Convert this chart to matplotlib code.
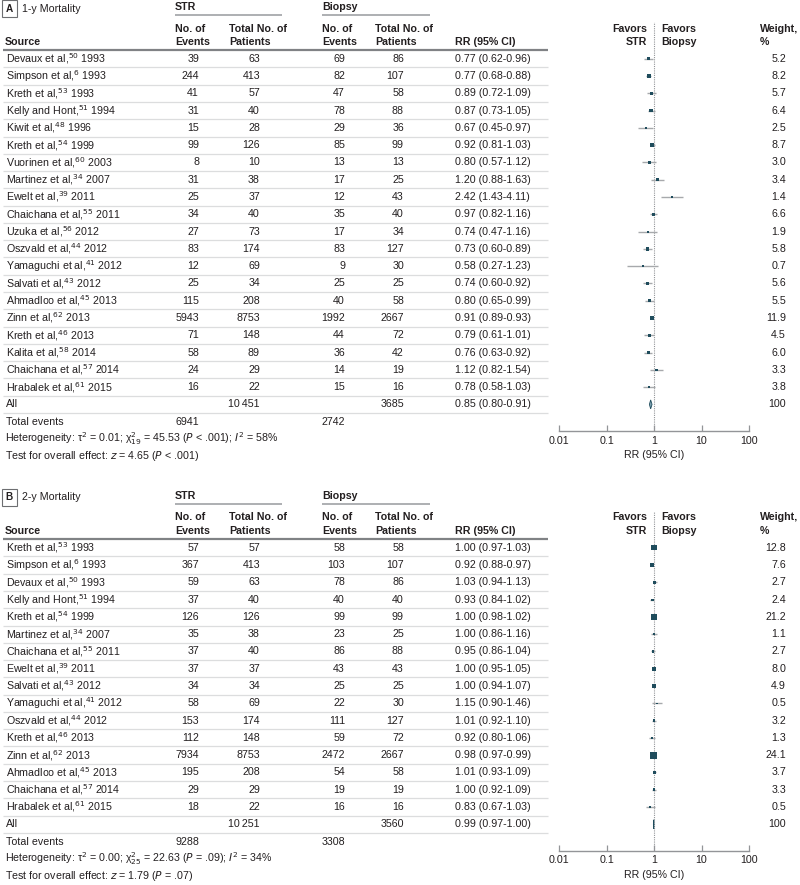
import matplotlib
matplotlib.use('Agg')
import matplotlib.pyplot as plt
from matplotlib.patches import Polygon
import numpy as np

FONT = ['Liberation Sans Narrow', 'Liberation Sans', 'DejaVu Sans']
plt.rcParams['font.family'] = FONT
plt.rcParams['mathtext.fontset'] = 'custom'
plt.rcParams['mathtext.rm'] = 'Liberation Sans Narrow'
plt.rcParams['mathtext.it'] = 'Liberation Sans Narrow:italic'
plt.rcParams['mathtext.bf'] = 'Liberation Sans Narrow:bold'

# ---------------- Panel A data: 1-y mortality ----------------
names_a = ["Devaux et al", "Simpson et al", "Kreth et al", "Kelly and Hont", "Kiwit et al",
           "Kreth et al", "Vuorinen et al", "Martinez et al", "Ewelt et al", "Chaichana et al",
           "Uzuka et al", "Oszvald et al", "Yamaguchi et al", "Salvati et al", "Ahmadloo et al",
           "Zinn et al", "Kreth et al", "Kalita et al", "Chaichana et al", "Hrabalek et al"]
refs_a = [50, 6, 53, 51, 48, 54, 60, 34, 39, 55, 56, 44, 41, 43, 45, 62, 46, 58, 57, 61]
years_a = [1993, 1993, 1993, 1994, 1996, 1999, 2003, 2007, 2011, 2011, 2012, 2012, 2012, 2012,
           2013, 2013, 2013, 2014, 2014, 2015]
str_events_a = [39, 244, 41, 31, 15, 99, 8, 31, 25, 34, 27, 83, 12, 25, 115, 5943, 71, 58, 24, 16]
str_total_a = [63, 413, 57, 40, 28, 126, 10, 38, 37, 40, 73, 174, 69, 34, 208, 8753, 148, 89, 29, 22]
bio_events_a = [69, 82, 47, 78, 29, 85, 13, 17, 12, 35, 17, 83, 9, 25, 40, 1992, 44, 36, 14, 15]
bio_total_a = [86, 107, 58, 88, 36, 99, 13, 25, 43, 40, 34, 127, 30, 25, 58, 2667, 72, 42, 19, 16]
rr_a = [0.77, 0.77, 0.89, 0.87, 0.67, 0.92, 0.80, 1.20, 2.42, 0.97, 0.74, 0.73, 0.58, 0.74, 0.80,
        0.91, 0.79, 0.76, 1.12, 0.78]
lo_a = [0.62, 0.68, 0.72, 0.73, 0.45, 0.81, 0.57, 0.88, 1.43, 0.82, 0.47, 0.60, 0.27, 0.60, 0.65,
        0.89, 0.61, 0.63, 0.82, 0.58]
hi_a = [0.96, 0.88, 1.09, 1.05, 0.97, 1.03, 1.12, 1.63, 4.11, 1.16, 1.16, 0.89, 1.23, 0.92, 0.99,
        0.93, 1.01, 0.92, 1.54, 1.03]
weight_a = [5.2, 8.2, 5.7, 6.4, 2.5, 8.7, 3.0, 3.4, 1.4, 6.6, 1.9, 5.8, 0.7, 5.6, 5.5, 11.9, 4.5,
            6.0, 3.3, 3.8]
pooled_a = dict(str_total="10\u2009451", bio_total="3685", rr=0.85, lo=0.80, hi=0.91,
                str_events="6941", bio_events="2742")
het_a = ("Heterogeneity: \u03c4$^2$ = 0.01; \u03c7$^{2}_{19}$ = 45.53 ($P$ < .001); $I^2$ = 58%")
test_a = "Test for overall effect: $z$ = 4.65 ($P$ < .001)"

# ---------------- Panel B data: 2-y mortality ----------------
names_b = ["Kreth et al", "Simpson et al", "Devaux et al", "Kelly and Hont", "Kreth et al",
           "Martinez et al", "Chaichana et al", "Ewelt et al", "Salvati et al", "Yamaguchi et al",
           "Oszvald et al", "Kreth et al", "Zinn et al", "Ahmadloo et al", "Chaichana et al",
           "Hrabalek et al"]
refs_b = [53, 6, 50, 51, 54, 34, 55, 39, 43, 41, 44, 46, 62, 45, 57, 61]
years_b = [1993, 1993, 1993, 1994, 1999, 2007, 2011, 2011, 2012, 2012, 2012, 2013, 2013, 2013,
           2014, 2015]
str_events_b = [57, 367, 59, 37, 126, 35, 37, 37, 34, 58, 153, 112, 7934, 195, 29, 18]
str_total_b = [57, 413, 63, 40, 126, 38, 40, 37, 34, 69, 174, 148, 8753, 208, 29, 22]
bio_events_b = [58, 103, 78, 40, 99, 23, 86, 43, 25, 22, 111, 59, 2472, 54, 19, 16]
bio_total_b = [58, 107, 86, 40, 99, 25, 88, 43, 25, 30, 127, 72, 2667, 58, 19, 16]
rr_b = [1.00, 0.92, 1.03, 0.93, 1.00, 1.00, 0.95, 1.00, 1.00, 1.15, 1.01, 0.92, 0.98, 1.01, 1.00,
        0.83]
lo_b = [0.97, 0.88, 0.94, 0.84, 0.98, 0.86, 0.86, 0.95, 0.94, 0.90, 0.92, 0.80, 0.97, 0.93, 0.92,
        0.67]
hi_b = [1.03, 0.97, 1.13, 1.02, 1.02, 1.16, 1.04, 1.05, 1.07, 1.46, 1.10, 1.06, 0.99, 1.09, 1.09,
        1.03]
weight_b = [12.8, 7.6, 2.7, 2.4, 21.2, 1.1, 2.7, 8.0, 4.9, 0.5, 3.2, 1.3, 24.1, 3.7, 3.3, 0.5]
pooled_b = dict(str_total="10\u2009251", bio_total="3560", rr=0.99, lo=0.97, hi=1.00,
                str_events="9288", bio_events="3308")
het_b = ("Heterogeneity: \u03c4$^2$ = 0.00; \u03c7$^{2}_{25}$ = 22.63 ($P$ = .09); $I^2$ = 34%")
test_b = "Test for overall effect: $z$ = 1.79 ($P$ = .07)"

xticks = [0.01, 0.1, 1, 10, 100]
xticklabels = ["0.01", "0.1", "1", "10", "100"]

# ---------------- layout ----------------
W, H = 800, 885
fig = plt.figure(figsize=(W / 100, H / 100), dpi=100)
ax = fig.add_axes([0, 0, 1, 1])
ax.set_xlim(0, W)
ax.set_ylim(H, 0)
ax.axis('off')

TXT = '#231f20'
FS = 7.7
DY = 17.28
MARK = '#1f4c5c'


def draw_panel(letter, title, off, names, refs, years, se, st, be, bt, rr, lo, hi, wt,
               pooled, het, test):
    n = len(names)
    # title
    ax.text(9.5, off + 8.5, letter, ha='center', va='center', fontsize=7.2, weight='bold',
            color=TXT, bbox=dict(boxstyle='square,pad=0.35', fc='white', ec='#6d6e71', lw=0.8))
    ax.text(22, off + 8.5, title, ha='left', va='center', fontsize=FS, color=TXT)
    # group headers
    for x0, x1, lab in [(175, 282, "STR"), (322, 430, "Biopsy")]:
        ax.text(x0, off + 7, lab, ha='left', va='center', fontsize=FS, color=TXT, weight='bold')
        ax.plot([x0, x1], [off + 14.5, off + 14.5], color='#a7a9ac', lw=1.3,
                solid_capstyle='butt')
    # column headers
    for x, l1, l2 in [(175, "No. of", "Events"), (229, "Total No. of", "Patients"),
                      (322, "No. of", "Events"), (375, "Total No. of", "Patients"),
                      (760, "Weight,", "%")]:
        ax.text(x, off + 28.5, l1, ha='left', va='center', fontsize=FS, color=TXT, weight='bold')
        ax.text(x, off + 42, l2, ha='left', va='center', fontsize=FS, color=TXT, weight='bold')
    ax.text(5, off + 42, "Source", ha='left', va='center', fontsize=FS, color=TXT, weight='bold')
    ax.text(455, off + 42, "RR (95% CI)", ha='left', va='center', fontsize=FS, color=TXT,
            weight='bold')
    ax.text(647, off + 28.5, "Favors", ha='right', va='center', fontsize=FS, color=TXT,
            weight='bold')
    ax.text(647, off + 42, "STR", ha='right', va='center', fontsize=FS, color=TXT, weight='bold')
    ax.text(661, off + 28.5, "Favors", ha='left', va='center', fontsize=FS, color=TXT,
            weight='bold')
    ax.text(661, off + 42, "Biopsy", ha='left', va='center', fontsize=FS, color=TXT,
            weight='bold')
    ax.plot([3, 548], [off + 50, off + 50], color='#808285', lw=1.6, solid_capstyle='butt')

    y0 = off + 58.8
    for i in range(n + 1):
        y = y0 + i * DY
        if i < n:
            lab = f"{names[i]},$^{{{refs[i]}}}$ {years[i]}"
            vals = [str(se[i]), str(st[i]), str(be[i]), str(bt[i])]
            rrt = f"{rr[i]:.2f} ({lo[i]:.2f}-{hi[i]:.2f})"
            wtt = f"{wt[i]:.1f}"
        else:
            lab = "All"
            vals = ["", pooled['str_total'], "", pooled['bio_total']]
            rrt = f"{pooled['rr']:.2f} ({pooled['lo']:.2f}-{pooled['hi']:.2f})"
            wtt = "100"
        ax.text(6, y, lab, ha='left', va='center', fontsize=FS, color=TXT)
        for x, v in zip([199, 260, 345, 404], vals):
            ax.text(x, y, v, ha='right', va='center', fontsize=FS, color=TXT)
        ax.text(455, y, rrt, ha='left', va='center', fontsize=FS, color=TXT)
        ax.text(786, y, wtt, ha='right', va='center', fontsize=FS, color=TXT)
        ax.plot([3, 548], [y + 8.6, y + 8.6], color='#dcddde', lw=0.9, solid_capstyle='butt')
    yall = y0 + n * DY
    ax.text(6, yall + DY, "Total events", ha='left', va='center', fontsize=FS, color=TXT)
    ax.text(199, yall + DY, pooled['str_events'], ha='right', va='center', fontsize=FS, color=TXT)
    ax.text(345, yall + DY, pooled['bio_events'], ha='right', va='center', fontsize=FS, color=TXT)
    ax.text(5, yall + 2 * DY, het, ha='left', va='center', fontsize=FS, color=TXT)
    ax.text(5, yall + 3 * DY, test, ha='left', va='center', fontsize=FS, color=TXT)

    # forest axes
    top_px = off + 22
    bot_px = yall + 27
    fa = fig.add_axes([559 / W, 1 - bot_px / H, (749 - 559) / W, (bot_px - top_px) / H])
    fa.set_xscale('log')
    fa.set_xlim(0.01, 100)
    fa.set_ylim((bot_px - y0) / DY, (top_px - y0) / DY)
    fa.patch.set_alpha(0)
    rows = np.arange(n)
    fa.axvline(1, color='#939598', lw=0.8, ls=(0, (1, 1)))
    fa.hlines(rows, lo, hi, color='#a7a9ac', lw=1.0)
    sizes = (0.72 * np.maximum(1.5, 1.4 * np.sqrt(np.array(wt)))) ** 2
    fa.scatter(rr, rows, marker='s', s=sizes, color=MARK, linewidths=0, zorder=3)
    dh = 0.26
    fa.add_patch(Polygon([(pooled['lo'], n), (pooled['rr'], n - dh), (pooled['hi'], n),
                          (pooled['rr'], n + dh)], closed=True, fc='#7fa3b3', ec='#1f4c5c',
                         lw=0.6, zorder=3))
    for s in ['left', 'right', 'top']:
        fa.spines[s].set_visible(False)
    fa.spines['bottom'].set_color('#939598')
    fa.spines['bottom'].set_linewidth(1.0)
    fa.set_yticks([])
    fa.set_xticks(xticks)
    fa.set_xticklabels(xticklabels)
    fa.minorticks_off()
    fa.tick_params(axis='x', direction='in', length=4, width=0.9, color='#939598',
                   labelsize=FS, labelcolor=TXT, pad=3)
    fa.set_xlabel("RR (95% CI)", fontsize=FS, color=TXT, labelpad=3)


draw_panel("A", "1-y Mortality", 0, names_a, refs_a, years_a, str_events_a, str_total_a,
           bio_events_a, bio_total_a, rr_a, lo_a, hi_a, weight_a, pooled_a, het_a, test_a)
draw_panel("B", "2-y Mortality", 489, names_b, refs_b, years_b, str_events_b, str_total_b,
           bio_events_b, bio_total_b, rr_b, lo_b, hi_b, weight_b, pooled_b, het_b, test_b)

fig.savefig("out.png", dpi=100)
